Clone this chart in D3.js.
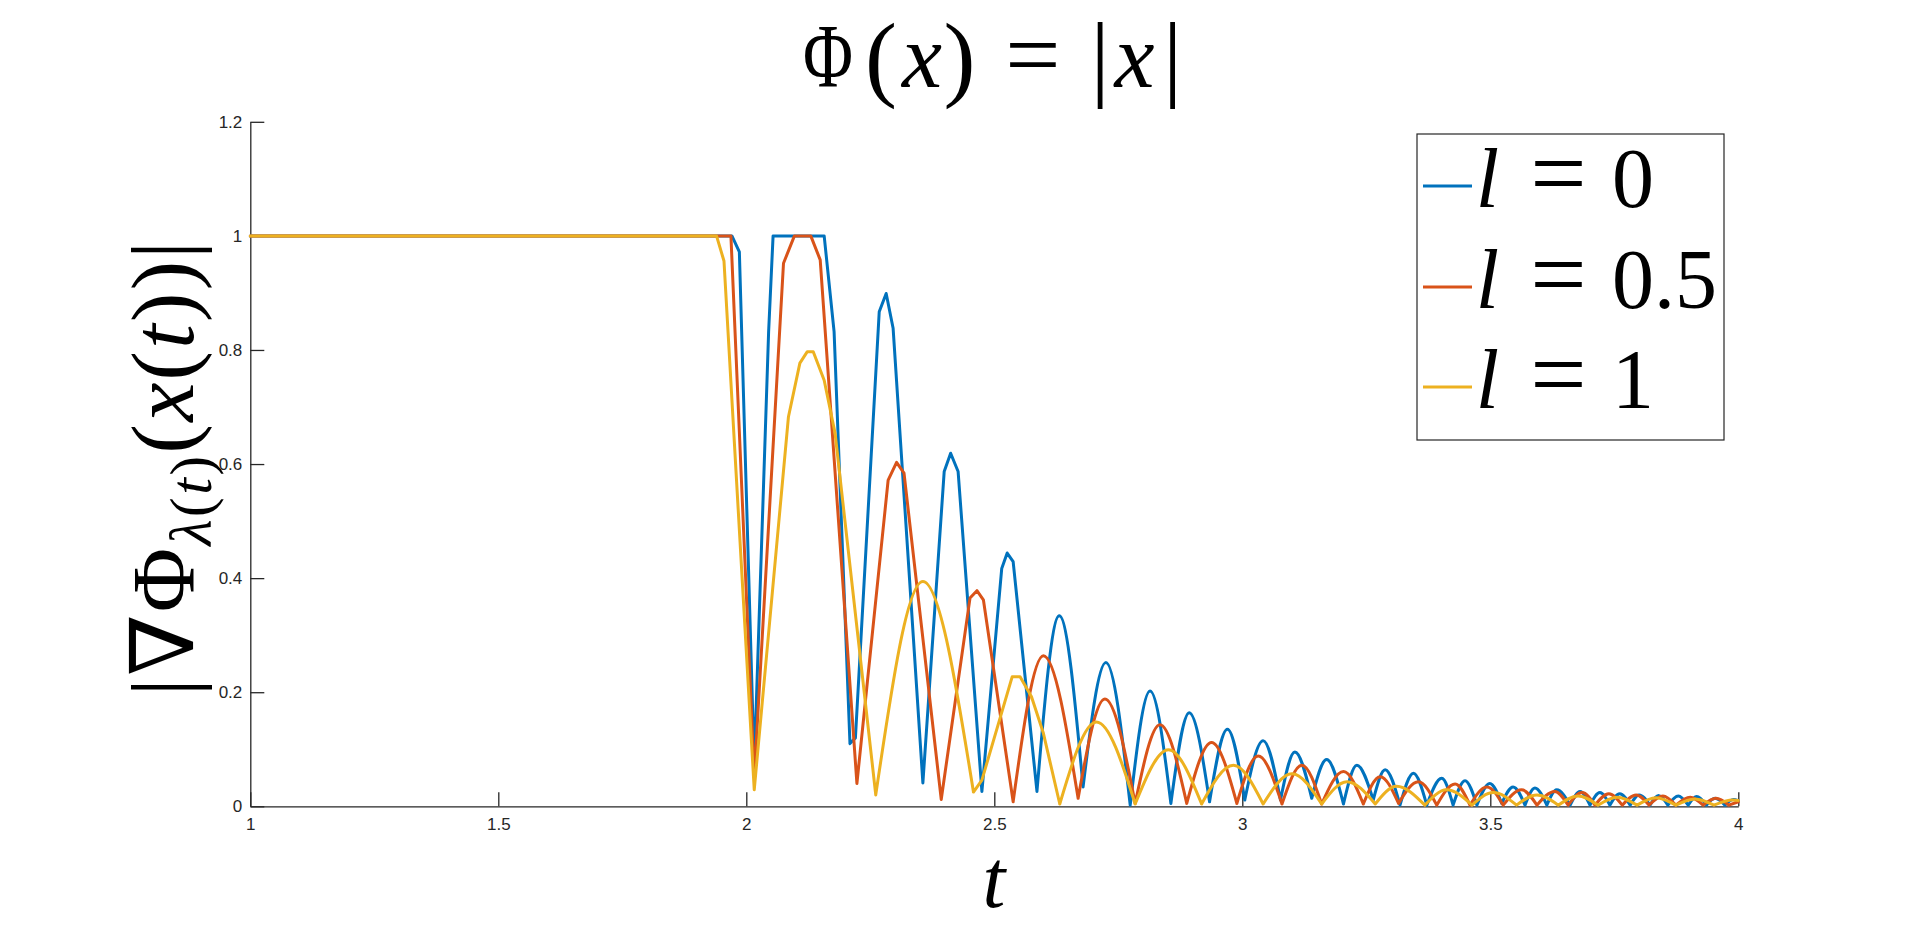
<!DOCTYPE html>
<html>
<head>
<meta charset="utf-8">
<script src="https://cdn.jsdelivr.net/npm/d3@7"></script>
<style>
  html, body { margin: 0; padding: 0; background: #ffffff; }
  svg { display: block; }
</style>
</head>
<body>
<svg id="chart" width="1920" height="936"></svg>
<script>
// ---------------- data ----------------
const xTicks = [1, 1.5, 2, 2.5, 3, 3.5, 4];
const xTickLabels = ["1", "1.5", "2", "2.5", "3", "3.5", "4"];
const yTicks = [0, 0.2, 0.4, 0.6, 0.8, 1, 1.2];
const yTickLabels = ["0", "0.2", "0.4", "0.6", "0.8", "1", "1.2"];

const legendValues = ["0", "0.5", "1"];
const seriesColors = ["#0072BD", "#D95319", "#EDB120"];

// l = 0
const tBlue = [1.000, 1.971, 1.986, 2.016, 2.045, 2.054, 2.157, 2.177, 2.209, 2.220,
  2.268, 2.282, 2.296, 2.356, 2.399, 2.412, 2.427, 2.475, 2.515, 2.526,
  2.538, 2.586, 2.631, 2.679, 2.725, 2.774, 2.814, 2.856, 2.893, 2.934,
  2.970, 3.005, 3.042, 3.077, 3.106, 3.140, 3.170, 3.204, 3.231, 3.264,
  3.288, 3.318, 3.345, 3.372, 3.402, 3.425, 3.449, 3.473, 3.499, 3.523,
  3.546, 3.570, 3.590, 3.614, 3.634, 3.661, 3.681, 3.701, 3.721, 3.741,
  3.761, 3.782, 3.800, 3.822, 3.839, 3.858, 3.879, 3.899, 3.916, 3.936,
  3.953, 3.973, 3.990, 4.000];
const vBlue = [1.000, 1.000, 0.972, 0.070, 0.832, 1.000, 1.000, 0.832, 0.110, 0.120,
  0.867, 0.899, 0.838, 0.041, 0.587, 0.619, 0.587, 0.026, 0.417, 0.444,
  0.429, 0.026, 0.334, 0.034, 0.252, 0.002, 0.202, 0.005, 0.164, 0.008,
  0.135, 0.011, 0.115, 0.011, 0.095, 0.014, 0.082, 0.004, 0.072, 0.011,
  0.064, 0.002, 0.058, 0.002, 0.049, 0.002, 0.045, 0.002, 0.040, 0.005,
  0.034, 0.002, 0.032, 0.002, 0.029, 0.002, 0.026, 0.002, 0.024, 0.002,
  0.022, 0.002, 0.020, 0.002, 0.019, 0.002, 0.018, 0.002, 0.017, 0.002,
  0.014, 0.002, 0.012, 0.010];

// l = 0.5
const tOrange = [1.000, 1.969, 2.016, 2.075, 2.097, 2.130, 2.149, 2.223, 2.286, 2.303,
  2.318, 2.393, 2.451, 2.465, 2.478, 2.538, 2.599, 2.669, 2.723, 2.784,
  2.834, 2.888, 2.938, 2.989, 3.032, 3.080, 3.120, 3.160, 3.204, 3.244,
  3.278, 3.315, 3.355, 3.392, 3.429, 3.459, 3.493, 3.526, 3.563, 3.594,
  3.630, 3.657, 3.685, 3.711, 3.739, 3.766, 3.794, 3.820, 3.848, 3.874,
  3.903, 3.929, 3.955, 3.981, 4.000];
const vOrange = [1.000, 1.000, 0.050, 0.952, 1.000, 1.000, 0.958, 0.040, 0.572, 0.603,
  0.584, 0.012, 0.365, 0.378, 0.362, 0.008, 0.264, 0.014, 0.188, 0.005,
  0.143, 0.005, 0.112, 0.005, 0.088, 0.004, 0.072, 0.004, 0.061, 0.004,
  0.052, 0.005, 0.043, 0.002, 0.039, 0.002, 0.034, 0.002, 0.029, 0.002,
  0.026, 0.002, 0.024, 0.002, 0.022, 0.002, 0.020, 0.002, 0.018, 0.002,
  0.016, 0.002, 0.014, 0.002, 0.008];

// l = 1
const tYellow = [1.000, 1.940, 1.955, 2.016, 2.085, 2.108, 2.123, 2.135, 2.157, 2.179,
  2.261, 2.356, 2.458, 2.475, 2.536, 2.552, 2.575, 2.599, 2.632, 2.706,
  2.784, 2.851, 2.918, 2.982, 3.042, 3.100, 3.160, 3.211, 3.268, 3.311,
  3.368, 3.412, 3.463, 3.506, 3.553, 3.594, 3.637, 3.677, 3.717, 3.756,
  3.796, 3.834, 3.874, 3.913, 3.951, 3.989, 4.000];
const vYellow = [1.000, 1.000, 0.956, 0.029, 0.683, 0.777, 0.797, 0.797, 0.747, 0.654,
  0.020, 0.394, 0.025, 0.046, 0.227, 0.227, 0.192, 0.128, 0.004, 0.148,
  0.004, 0.099, 0.004, 0.072, 0.004, 0.057, 0.004, 0.043, 0.004, 0.035,
  0.002, 0.029, 0.002, 0.024, 0.002, 0.020, 0.002, 0.018, 0.002, 0.016,
  0.002, 0.015, 0.002, 0.013, 0.002, 0.011, 0.010];

// ---------------- drawing ----------------
const svg = d3.select("#chart");
const axisColor = "#262626";
const mathFont = "'Liberation Serif', 'DejaVu Serif', serif";

const x = d3.scaleLinear().domain([1, 4]).range([250.3, 1738.3]);
const y = d3.scaleLinear().domain([0, 1.2]).range([806.3, 121.8]);

// axes (MATLAB style: ticks inward, box off)
const gx = svg.append("g")
  .attr("transform", `translate(0,${y(0)})`)
  .call(d3.axisBottom(x).tickValues(xTicks).tickSizeInner(-14).tickSizeOuter(0)
    .tickPadding(12).tickFormat((d, i) => xTickLabels[i]));
const gy = svg.append("g")
  .attr("transform", `translate(${x(1)},0)`)
  .call(d3.axisLeft(y).tickValues(yTicks).tickSizeInner(-14).tickSizeOuter(0)
    .tickPadding(8).tickFormat((d, i) => yTickLabels[i]));
[gx, gy].forEach(g => {
  g.selectAll("path.domain").attr("stroke", axisColor).attr("stroke-width", 1.3);
  g.selectAll(".tick line").attr("stroke", axisColor).attr("stroke-width", 1.3);
  g.selectAll(".tick text").attr("fill", axisColor)
    .attr("font-family", "'Liberation Sans', Arial, Helvetica, sans-serif")
    .attr("font-size", 17);
});

// series: split at local minima; simple single-vertex arches are drawn smooth
const lineLin = d3.line().x(d => x(d[0])).y(d => y(d[1]));
const lineArc = d3.line().x(d => x(d[0])).y(d => y(d[1])).curve(d3.curveMonotoneX);
function seriesPath(ts, vs) {
  const pts = ts.map((t, i) => [t, vs[i]]);
  const cuts = [0];
  for (let i = 1; i < pts.length - 1; i++) {
    if (pts[i][1] < pts[i - 1][1] && pts[i][1] <= pts[i + 1][1]) cuts.push(i);
  }
  cuts.push(pts.length - 1);
  let d = "";
  for (let k = 0; k < cuts.length - 1; k++) {
    const seg = pts.slice(cuts[k], cuts[k + 1] + 1);
    const isArch = seg.length === 3 && seg[1][1] > seg[0][1] && seg[1][1] > seg[2][1];
    d += (isArch ? lineArc : lineLin)(seg);
  }
  return d;
}
const series = [[tBlue, vBlue], [tOrange, vOrange], [tYellow, vYellow]];
svg.append("g").selectAll("path").data(series).join("path")
  .attr("d", s => seriesPath(s[0], s[1]))
  .attr("fill", "none")
  .attr("stroke", (s, i) => seriesColors[i])
  .attr("stroke-width", 3)
  .attr("stroke-linejoin", "round")
  .attr("stroke-linecap", "round");

// ---------------- title  Φ(x) = |x| ----------------
const title = svg.append("g").attr("font-family", mathFont).attr("fill", "#000");
const titleBase = 87;
title.append("text").attr("x", 828).attr("y", titleBase).attr("text-anchor", "middle")
  .attr("font-size", 90).attr("textLength", 50).attr("lengthAdjust", "spacingAndGlyphs").text("Φ");
title.append("text").attr("x", 881).attr("y", 89).attr("text-anchor", "middle")
  .attr("font-size", 96).text("(");
title.append("text").attr("x", 922).attr("y", titleBase).attr("text-anchor", "middle")
  .attr("font-size", 90).attr("font-style", "italic").text("x");
title.append("text").attr("x", 959.5).attr("y", 89).attr("text-anchor", "middle")
  .attr("font-size", 96).text(")");
title.append("text").attr("x", 1033).attr("y", titleBase).attr("text-anchor", "middle")
  .attr("font-size", 98).text("=");
title.append("text").attr("x", 1100).attr("y", 89).attr("text-anchor", "middle")
  .attr("font-size", 96).text("|");
title.append("text").attr("x", 1134.5).attr("y", titleBase).attr("text-anchor", "middle")
  .attr("font-size", 90).attr("font-style", "italic").text("x");
title.append("text").attr("x", 1172.5).attr("y", 89).attr("text-anchor", "middle")
  .attr("font-size", 96).text("|");

// ---------------- x label  t ----------------
svg.append("text").attr("x", 994).attr("y", 907).attr("text-anchor", "middle")
  .attr("font-family", mathFont).attr("font-size", 82).attr("font-style", "italic")
  .text("t");

// ---------------- y label  |∇Φ_{λ(t)}(x(t))| ----------------
const ylab = svg.append("text")
  .attr("transform", "translate(193,696) rotate(-90)")
  .attr("font-family", mathFont).attr("font-size", 88)
  .attr("textLength", 455).attr("lengthAdjust", "spacing");
ylab.append("tspan").text("|∇Φ");
ylab.append("tspan").attr("font-size", 60).attr("dy", 18).attr("font-style", "italic").text("λ");
ylab.append("tspan").attr("font-size", 60).text("(");
ylab.append("tspan").attr("font-size", 60).attr("font-style", "italic").text("t");
ylab.append("tspan").attr("font-size", 60).text(")");
ylab.append("tspan").attr("dy", -18).text("(");
ylab.append("tspan").attr("font-style", "italic").text("x");
ylab.append("tspan").text("(");
ylab.append("tspan").attr("font-style", "italic").text("t");
ylab.append("tspan").text("))|");

// ---------------- legend ----------------
const legend = svg.append("g");
legend.append("rect").attr("x", 1417).attr("y", 134).attr("width", 307).attr("height", 306)
  .attr("fill", "#fff").attr("stroke", axisColor).attr("stroke-width", 1.2);
const rowBase = [207, 308, 408];
legendValues.forEach((val, i) => {
  const g = legend.append("g").attr("font-family", mathFont).attr("fill", "#000");
  g.append("line").attr("x1", 1423).attr("x2", 1472)
    .attr("y1", rowBase[i] - 21).attr("y2", rowBase[i] - 21)
    .attr("stroke", seriesColors[i]).attr("stroke-width", 3);
  g.append("text").attr("x", 1487.5).attr("y", rowBase[i]).attr("text-anchor", "middle")
    .attr("font-size", 84).attr("font-style", "italic").text("l");
  g.append("text").attr("x", 1558.5).attr("y", rowBase[i]).attr("text-anchor", "middle")
    .attr("font-size", 100).text("=");
  g.append("text").attr("x", 1612).attr("y", rowBase[i]).attr("text-anchor", "start")
    .attr("font-size", 84).text(val);
});
</script>
</body>
</html>
